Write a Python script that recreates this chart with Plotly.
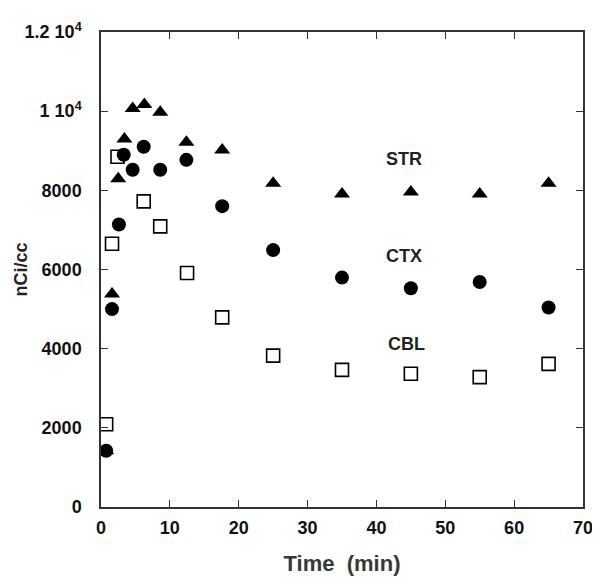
import plotly.graph_objects as go

# Data
str_t = [0.75, 1.6, 2.5, 3.4, 4.6, 6.3, 8.6, 12.4, 17.6, 25, 35, 45, 55, 65]
str_v = [1420, 5380, 8290, 9300, 10070, 10170, 9970, 9215, 9020, 8180, 7910, 7960, 7910, 8180]

ctx_t = [0.75, 1.6, 2.6, 3.3, 4.6, 6.2, 8.6, 12.4, 17.6, 25, 35, 45, 55, 65]
ctx_v = [1420, 5000, 7135, 8900, 8520, 9100, 8520, 8770, 7600, 6490, 5795, 5525, 5685, 5040]

cbl_t = [0.75, 1.6, 2.4, 6.2, 8.6, 12.5, 17.6, 25, 35, 45, 55, 65]
cbl_v = [2090, 6650, 8850, 7720, 7090, 5910, 4790, 3825, 3465, 3365, 3280, 3615]

x_ticks = [0, 10, 20, 30, 40, 50, 60, 70]
y_ticks = [0, 2000, 4000, 6000, 8000, 10000, 12000]
y_ticktext = ["0", "2000", "4000", "6000", "8000", "1 10<sup>4</sup>", "1.2 10<sup>4</sup>"]

labels = ["STR", "CTX", "CBL"]
label_x = [44.0, 44.0, 44.3]
label_y = [8800, 6340, 4125]

FONT = "Liberation Sans, Arial, sans-serif"

fig = go.Figure()
fig.add_trace(go.Scatter(x=cbl_t, y=cbl_v, mode="markers", name="CBL",
                         marker=dict(symbol="square-open", size=13, color="black",
                                     line=dict(width=1.6, color="black"))))
fig.add_trace(go.Scatter(x=ctx_t, y=ctx_v, mode="markers", name="CTX",
                         marker=dict(symbol="circle", size=14, color="black")))
fig.add_trace(go.Scatter(x=str_t, y=str_v, mode="markers", name="STR",
                         marker=dict(symbol="triangle-up", size=14, color="black")))

for txt, lx, ly in zip(labels, label_x, label_y):
    fig.add_annotation(x=lx, y=ly, text="<b>%s</b>" % txt, showarrow=False,
                       font=dict(family=FONT, size=18, color="#222"))

# y-axis title placed as rotated annotation
fig.add_annotation(xref="paper", yref="paper", x=-0.168, y=0.5, text="<b>nCi/cc</b>",
                   textangle=-90, showarrow=False, xanchor="center", yanchor="middle",
                   font=dict(family=FONT, size=18, color="#222"))

axis_common = dict(showgrid=False, zeroline=False, showline=True, linecolor="#333",
                   linewidth=1.5, mirror="ticks", ticks="inside", ticklen=7,
                   tickcolor="#333", tickwidth=1.2,
                   tickfont=dict(family=FONT, size=18, color="#111", weight="bold"))

fig.update_xaxes(range=[0, 70], tickvals=x_ticks, ticklabelstandoff=4,
                 title=dict(text="<b>Time  (min)</b>", font=dict(family=FONT, size=22, color="#383838"),
                            standoff=18),
                 **axis_common)
fig.update_yaxes(range=[0, 12000], tickvals=y_ticks, ticktext=y_ticktext,
                 ticklabelstandoff=14,
                 **axis_common)

fig.update_layout(width=600, height=585, showlegend=False,
                  paper_bgcolor="white", plot_bgcolor="white",
                  margin=dict(l=93, r=25, t=21, b=86))

fig.write_html("out.html")
